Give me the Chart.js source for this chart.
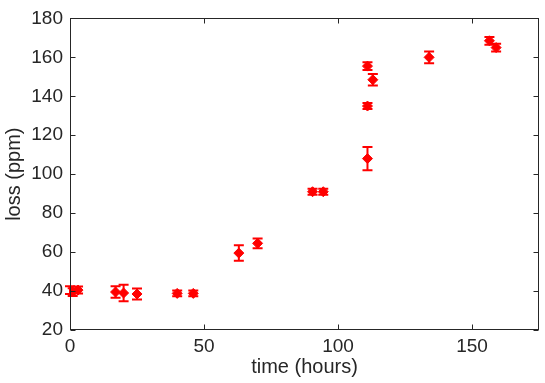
<!DOCTYPE html>
<html>
<head>
<meta charset="utf-8">
<script src="https://cdn.jsdelivr.net/npm/chart.js@4"></script>
<style>
  html, body { margin: 0; padding: 0; background: #fff; }
  #wrap { width: 545px; height: 383px; }
</style>
</head>
<body>
<div id="wrap"><canvas id="c" width="545" height="383"></canvas></div>
<script>
// ---- data ----
const times = [0, 1, 3, 17, 20, 25, 40, 46, 63, 70, 90.5, 94.5, 111, 111, 111, 113, 134, 156.5, 159];
const loss  = [40.5, 39.5, 40.5, 39.5, 39, 38.5, 38.8, 38.8, 59.5, 64.5, 91, 91, 108, 135, 155.5, 148.5, 160, 168.5, 165];
const errs  = [2, 2, 1.8, 3, 4.2, 2.8, 1.5, 1.5, 4, 2.5, 1.5, 1.5, 6, 1.5, 2, 3, 3, 2, 2];
const xTicks = [0, 50, 100, 150];
const yTicks = [20, 40, 60, 80, 100, 120, 140, 160, 180];
const xLabel = 'time (hours)';
const yLabel = 'loss (ppm)';

const FONT = '"Liberation Sans", Arial, Helvetica, sans-serif';
const AXIS = '#262626';
const RED = '#ff0000';

const errorBars = {
  id: 'errorBars',
  beforeDatasetsDraw(chart) {
    const {ctx, scales: {x, y}} = chart;
    ctx.save();
    ctx.strokeStyle = RED;
    ctx.lineWidth = 2;
    const cap = 5;
    times.forEach((t, i) => {
      const px = x.getPixelForValue(t);
      const top = y.getPixelForValue(loss[i] + errs[i]);
      const bot = y.getPixelForValue(loss[i] - errs[i]);
      ctx.beginPath();
      ctx.moveTo(px, top); ctx.lineTo(px, bot);
      ctx.moveTo(px - cap, top); ctx.lineTo(px + cap, top);
      ctx.moveTo(px - cap, bot); ctx.lineTo(px + cap, bot);
      ctx.stroke();
    });
    ctx.restore();
  }
};

const boxAxes = {
  id: 'boxAxes',
  afterDraw(chart) {
    const {ctx, chartArea: a, scales: {x, y}} = chart;
    ctx.save();
    ctx.strokeStyle = AXIS;
    ctx.lineWidth = 1;
    const L = Math.round(a.left) + 0.5, R = Math.round(a.right) - 0.5;
    const T = Math.round(a.top) + 0.5, B = Math.round(a.bottom) - 0.5;
    ctx.strokeRect(L, T, R - L, B - T);
    const tl = 5;
    ctx.beginPath();
    xTicks.forEach(v => {
      const px = Math.round(x.getPixelForValue(v)) + 0.5;
      ctx.moveTo(px, B); ctx.lineTo(px, B - tl);
      ctx.moveTo(px, T); ctx.lineTo(px, T + tl);
    });
    yTicks.forEach(v => {
      const py = Math.round(y.getPixelForValue(v)) + 0.5;
      ctx.moveTo(L, py); ctx.lineTo(L + tl, py);
      ctx.moveTo(R, py); ctx.lineTo(R - tl, py);
    });
    ctx.stroke();
    ctx.restore();
  }
};

new Chart(document.getElementById('c'), {
  type: 'scatter',
  data: {
    datasets: [{
      data: times.map((t, i) => ({x: t, y: loss[i]})),
      pointStyle: 'rectRot',
      pointRadius: 5,
      pointHoverRadius: 5,
      backgroundColor: RED,
      borderColor: RED,
      borderWidth: 1
    }]
  },
  options: {
    responsive: false,
    animation: false,
    events: [],
    layout: { padding: { top: 15, right: 6, left: 0, bottom: 0 } },
    plugins: { legend: { display: false }, tooltip: { enabled: false } },
    scales: {
      x: {
        type: 'linear', min: 0, max: 175,
        afterBuildTicks: s => { s.ticks = xTicks.map(v => ({value: v})); },
        afterFit: s => { s.height = 53; },
        grid: { display: false, drawTicks: false },
        border: { display: false },
        ticks: { padding: 5, color: AXIS, font: { family: FONT, size: 19 } },
        title: { display: true, text: xLabel, color: AXIS, padding: { top: 0, bottom: 4 },
                 font: { family: FONT, size: 20 } }
      },
      y: {
        type: 'linear', min: 20, max: 180,
        afterBuildTicks: s => { s.ticks = yTicks.map(v => ({value: v})); },
        afterFit: s => { s.width = 70; },
        grid: { display: false, drawTicks: false },
        border: { display: false },
        ticks: { padding: 7, color: AXIS, font: { family: FONT, size: 19 } },
        title: { display: true, text: yLabel, color: AXIS, padding: { top: 2, bottom: 0 },
                 font: { family: FONT, size: 20 } }
      }
    }
  },
  plugins: [errorBars, boxAxes]
});
</script>
</body>
</html>
